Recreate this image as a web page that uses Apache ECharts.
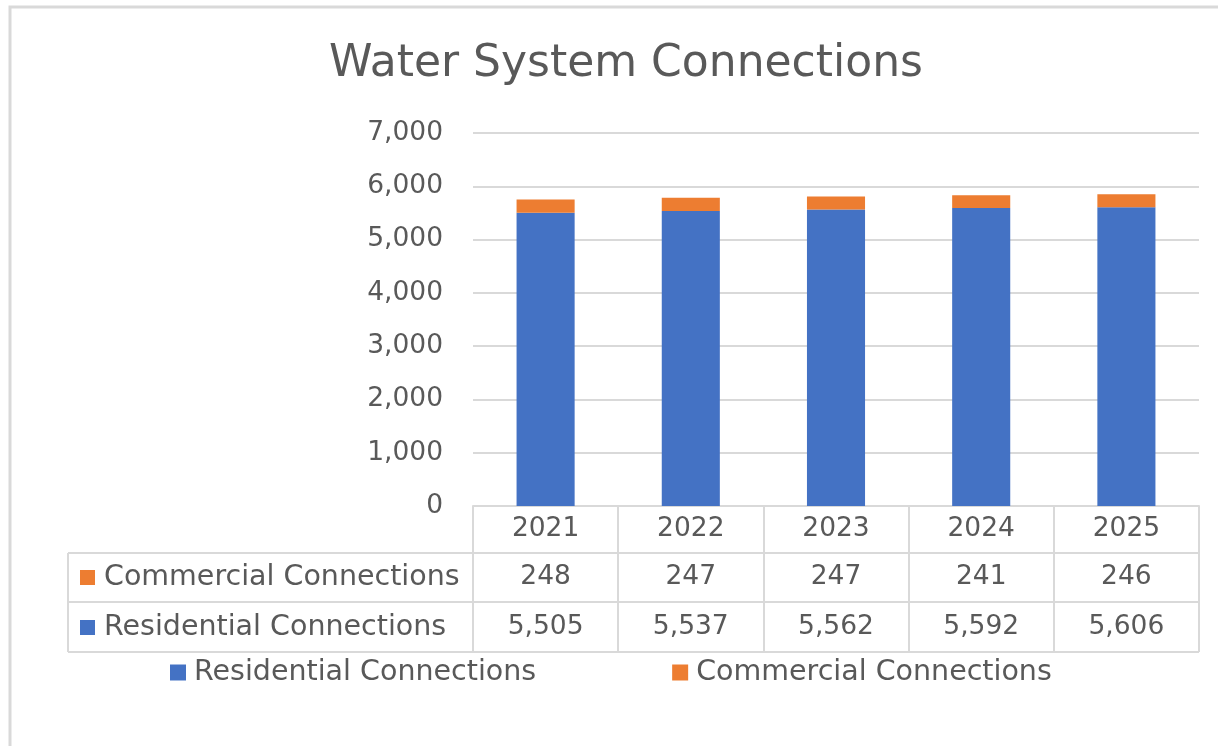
<!DOCTYPE html>
<html>
<head>
<meta charset="utf-8">
<script src="https://cdn.jsdelivr.net/npm/echarts@6/dist/echarts.min.js"></script>
<style>
html,body{margin:0;padding:0;background:#fff;}
#chart{width:1218px;height:746px;}
</style>
</head>
<body>
<div id="chart"></div>
<script>
const categories = ['2021', '2022', '2023', '2024', '2025'];
const residential = [5505, 5537, 5562, 5592, 5606];
const commercial = [248, 247, 247, 241, 246];
const seriesNames = ['Residential Connections', 'Commercial Connections'];
const yTicks = [0, 1000, 2000, 3000, 4000, 5000, 6000, 7000];

const FONT = 'DejaVu Sans';
const FS = 26.5;   // numbers
const FT = 28.5;   // words
const TXT = '#595959';
const LINE = '#d9d9d9';
const BLUE = '#4472C4';
const ORANGE = '#ED7D31';
const fmt = v => v.toLocaleString('en-US');

const chart = echarts.init(document.getElementById('chart'));
const tableLine = (x1, y1, x2, y2) => ({
  type: 'line', shape: {x1, y1, x2, y2},
  style: {stroke: LINE, lineWidth: 2}, z: 5
});

chart.setOption({
  animation: false,
  textStyle: {fontFamily: FONT, color: TXT},
  title: {
    text: 'Water System Connections',
    left: 324, top: 38,
    textStyle: {fontFamily: FONT, fontSize: 44, fontWeight: 'normal', color: TXT}
  },
  grid: {left: 473, right: 19, top: 133, bottom: 240, containLabel: false},
  legend: {
    data: seriesNames,
    left: 170, top: 658, padding: 0,
    icon: 'rect', itemWidth: 16, itemHeight: 16, itemGap: 136, itemStyle: {borderWidth: 0},
    textStyle: {fontFamily: FONT, fontSize: FT, color: TXT, padding: [0, 0, 0, 3]}
  },
  yAxis: {
    type: 'value', min: yTicks[0], max: yTicks[yTicks.length - 1], interval: 1000,
    axisLine: {show: false}, axisTick: {show: false},
    splitLine: {lineStyle: {color: LINE, width: 2}},
    axisLabel: {fontFamily: FONT, fontSize: FS, color: TXT, margin: 30, formatter: v => fmt(v)}
  },
  xAxis: [
    {
      type: 'category', data: categories, position: 'bottom',
      axisLine: {show: true, lineStyle: {color: LINE, width: 2}},
      axisTick: {show: true, length: 146, lineStyle: {color: LINE, width: 2}},
      axisLabel: {fontFamily: FONT, fontSize: FS, color: TXT, margin: 10}
    },
    {
      type: 'category', data: categories, position: 'bottom', offset: 47,
      axisLine: {show: false}, axisTick: {show: false},
      axisLabel: {fontFamily: FONT, fontSize: FS, color: TXT, margin: 11,
        formatter: (v, i) => fmt(commercial[i])}
    },
    {
      type: 'category', data: categories, position: 'bottom', offset: 96,
      axisLine: {show: false}, axisTick: {show: false},
      axisLabel: {fontFamily: FONT, fontSize: FS, color: TXT, margin: 12,
        formatter: (v, i) => fmt(residential[i])}
    }
  ],
  series: [
    {
      name: seriesNames[0], type: 'bar', stack: 'total', xAxisIndex: 0,
      data: residential, barWidth: '40%', itemStyle: {color: BLUE}
    },
    {
      name: seriesNames[1], type: 'bar', stack: 'total', xAxisIndex: 0,
      data: commercial, barWidth: '40%', itemStyle: {color: ORANGE}
    }
  ],
  graphic: [
    {type: 'rect', shape: {x: 10, y: 7, width: 1300, height: 800},
     style: {fill: 'none', stroke: LINE, lineWidth: 3}, z: 0},
    tableLine(68, 553, 1199, 553),
    tableLine(68, 602, 1199, 602),
    tableLine(68, 652, 1199, 652),
    tableLine(68, 553, 68, 652),
    {type: 'rect', shape: {x: 80, y: 570, width: 15, height: 15}, style: {fill: ORANGE}},
    {type: 'text', x: 104, y: 578, style: {text: seriesNames[1], fontFamily: FONT, fontSize: FT, fill: TXT, verticalAlign: 'middle'}},
    {type: 'rect', shape: {x: 80, y: 620, width: 15, height: 15}, style: {fill: BLUE}},
    {type: 'text', x: 104, y: 628, style: {text: seriesNames[0], fontFamily: FONT, fontSize: FT, fill: TXT, verticalAlign: 'middle'}}
  ]
});
</script>
</body>
</html>
